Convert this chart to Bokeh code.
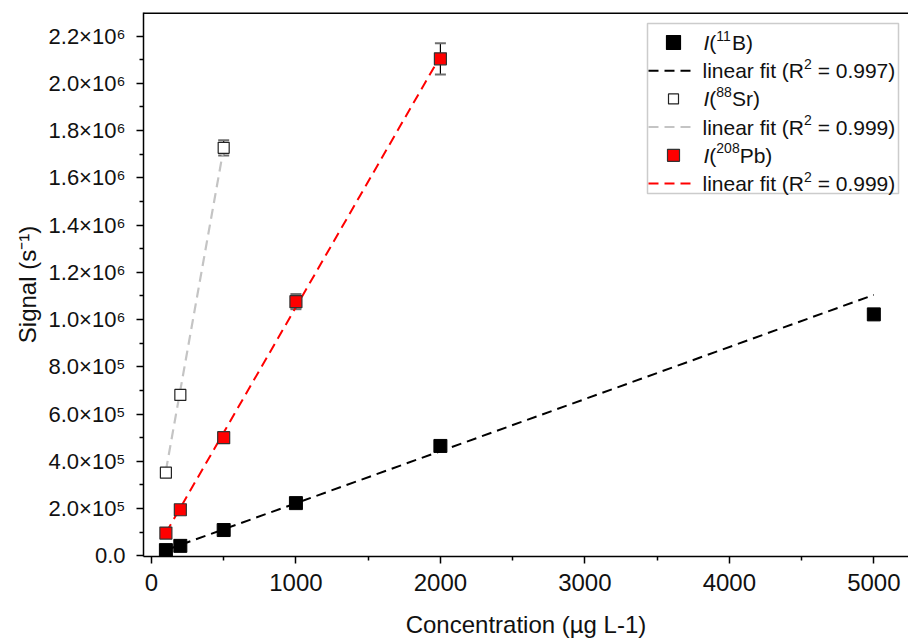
from bokeh.plotting import figure
from bokeh.models import (Range1d, FixedTicker, Label, Whisker, TeeHead,
                          ColumnDataSource, BoxAnnotation, Span)
from bokeh.embed import file_html
from bokeh.resources import INLINE

# ---------------- data ----------------
conc_b = [100, 200, 500, 1000, 2000, 5000]
sig_b = [2.4e4, 4.2e4, 1.09e5, 2.23e5, 4.65e5, 1.022e6]
err_b = [0, 0, 0, 0, 0, 0]

conc_sr = [100, 200, 500]
sig_sr = [3.52e5, 6.81e5, 1.727e6]
err_sr = [0, 0, 3.2e4]

conc_pb = [100, 200, 500, 1000, 2000]
sig_pb = [9.6e4, 1.95e5, 5.0e5, 1.076e6, 2.104e6]
err_pb = [0, 0, 0, 3.2e4, 6.6e4]

fit_b_x = [100, 5000]
fit_b_y = [2.4e4, 1.1045e6]
fit_sr_x = [100, 500]
fit_sr_y = [3.6e5, 1.726e6]
fit_pb_x = [100, 2000]
fit_pb_y = [9.7e4, 2.115e6]

r2_b, r2_sr, r2_pb = "0.997", "0.999", "0.999"

x_ticks = [0, 1000, 2000, 3000, 4000, 5000]
x_minor = [500, 1500, 2500, 3500, 4500]
y_ticks = [0, 2e5, 4e5, 6e5, 8e5, 1e6, 1.2e6, 1.4e6, 1.6e6, 1.8e6, 2.0e6, 2.2e6]
y_minor = [1e5, 3e5, 5e5, 7e5, 9e5, 1.1e6, 1.3e6, 1.5e6, 1.7e6, 1.9e6, 2.1e6]
y_tick_labels = ["0.0", "2.0×10⁵", "4.0×10⁵", "6.0×10⁵", "8.0×10⁵", "1.0×10⁶",
                 "1.2×10⁶", "1.4×10⁶", "1.6×10⁶", "1.8×10⁶", "2.0×10⁶", "2.2×10⁶"]

# ---------------- layout ----------------
FL, FT, FW, FH, FB = 143, 12, 765, 544, 85
X0, X1 = -55, 5240
Y0, Y1 = -3000, 2.3e6
FONT = "Liberation Sans"
TXT = "#111111"


def dx(cx):
    return X0 + (cx - FL) / FW * (X1 - X0)


def dy(cy):
    return Y1 - (cy - FT) / FH * (Y1 - Y0)


AW = {" ": 278, "(": 333, ")": 333, ".": 278, "=": 584, "B": 667, "S": 667,
      "P": 667, "R": 722, "I": 278, "a": 556, "b": 556, "e": 556, "f": 278,
      "i": 222, "l": 222, "n": 556, "r": 333, "t": 278, "g": 556, "s": 500,
      "-": 333, "×": 584}


def tw(s, size):
    return sum(AW.get(c, 556) for c in s) * size / 1000.0


p = figure(frame_width=FW, frame_height=FH,
           x_range=Range1d(X0, X1), y_range=Range1d(Y0, Y1),
           output_backend="svg", toolbar_location=None,
           min_border_left=FL, min_border_top=FT, min_border_right=0,
           min_border_bottom=FB)
p.grid.visible = False
p.outline_line_color = None
p.background_fill_color = "white"
p.border_fill_color = "white"
p.add_layout(Span(location=Y1, dimension="width", line_color="black",
                  line_width=3))

for ax in (p.xaxis[0], p.yaxis[0]):
    ax.axis_line_width = 1.5
    ax.axis_line_color = "black"
    ax.major_tick_line_width = 1.5
    ax.minor_tick_line_width = 1.5
    ax.major_tick_out = 7
    ax.major_tick_in = 0
    ax.minor_tick_out = 4
    ax.minor_tick_in = 0
    ax.major_label_text_font = FONT
    ax.major_label_text_color = TXT
    ax.axis_label_text_font = FONT
    ax.axis_label_text_font_style = "normal"
    ax.axis_label_text_color = TXT

p.xaxis.ticker = FixedTicker(ticks=x_ticks, minor_ticks=x_minor)
p.xaxis.major_label_text_font_size = "24px"
p.xaxis.major_label_standoff = 10
p.xaxis.axis_label = "Concentration (µg L-1)"
p.xaxis.axis_label_text_font_size = "24px"
p.xaxis.axis_label_standoff = 17

p.yaxis.ticker = FixedTicker(ticks=y_ticks, minor_ticks=y_minor)
p.yaxis.major_label_overrides = {v: t for v, t in zip(y_ticks, y_tick_labels)}
p.yaxis.major_label_text_font_size = "22px"
p.yaxis.major_label_standoff = 11
p.yaxis.axis_label = "Signal (s⁻¹)"
p.yaxis.axis_label_text_font_size = "24px"
p.yaxis.axis_label_standoff = 4


# ---------------- error bars ----------------
def add_whiskers(xs, ys, es):
    src = ColumnDataSource(dict(
        x=[x for x, e in zip(xs, es) if e > 0],
        lo=[y - e for y, e in zip(ys, es) if e > 0],
        hi=[y + e for y, e in zip(ys, es) if e > 0]))
    w = Whisker(source=src, base="x", lower="lo", upper="hi", dimension="height",
                line_color="black", line_width=1.2,
                upper_head=TeeHead(size=11, line_color="#6e6e6e", line_width=2),
                lower_head=TeeHead(size=11, line_color="#6e6e6e", line_width=2),
                level="underlay")
    p.add_layout(w)


add_whiskers(conc_b, sig_b, err_b)
add_whiskers(conc_sr, sig_sr, err_sr)
add_whiskers(conc_pb, sig_pb, err_pb)

# ---------------- fit lines ----------------
DASH = "10 6"
p.line(fit_b_x, fit_b_y, line_color="black", line_dash=DASH, line_width=2)
p.line(fit_sr_x, fit_sr_y, line_color="#c4c4c4", line_dash=DASH, line_width=2.2)
p.line(fit_pb_x, fit_pb_y, line_color="#ff0000", line_dash=DASH, line_width=2)

# ---------------- markers ----------------
p.scatter(conc_b, sig_b, marker="square", size=13, fill_color="black",
          line_color="black")
p.scatter(conc_sr, sig_sr, marker="square", size=11, fill_color="white",
          line_color="#222222", line_width=1.2)
p.scatter(conc_pb, sig_pb, marker="square", size=12, fill_color="#ff0000",
          line_color="#333333", line_width=1.2)

# ---------------- legend (hand built) ----------------
box = BoxAnnotation(left=dx(647), right=dx(898), top=dy(23), bottom=dy(193),
                    fill_color="white", fill_alpha=1.0, line_color="#555555",
                    line_width=1.5, level="underlay")
p.add_layout(box)

LG_SZ, LG_SUP = 21, 14
row_c = [42 + 28.2 * i for i in range(6)]
mk_x, ln_x0, ln_x1, tx = 673, 648, 695, 703

entries = [("11", "B)", "black", "black", 14, "black"),
           ("88", "Sr)", "white", "#222222", 10, "#c4c4c4"),
           ("208", "Pb)", "#ff0000", "#333333", 12, "#ff0000")]
r2s = [r2_b, r2_sr, r2_pb]


def lab(x, y, text, size, style="normal"):
    p.add_layout(Label(x=dx(x), y=dy(y), text=text, text_font=FONT,
                       text_font_style=style, text_font_size=f"{size}px",
                       text_align="left", text_baseline="middle",
                       text_color=TXT))


for i, (iso, el, fc, lc, sz, linec) in enumerate(entries):
    rc = row_c[2 * i]
    p.scatter([dx(mk_x)], [dy(rc)], marker="square", size=sz, fill_color=fc,
              line_color=lc, line_width=1.2)
    x = tx
    lab(x, rc, "I", LG_SZ, "italic")
    x += tw("I", LG_SZ)
    lab(x, rc, "(", LG_SZ)
    x += tw("(", LG_SZ)
    lab(x, rc - 7, iso, LG_SUP)
    x += tw(iso, LG_SUP)
    lab(x, rc, el, LG_SZ)

    rc2 = row_c[2 * i + 1]
    p.line([dx(ln_x0), dx(ln_x1)], [dy(rc2), dy(rc2)], line_color=linec,
           line_dash=DASH, line_width=2)
    a = "linear fit (R"
    b = "= " + r2s[i] + ")"
    x = tx - 1
    lab(x, rc2, a, LG_SZ)
    x += tw(a, LG_SZ)
    lab(x, rc2 - 7, "2", LG_SUP)
    x += tw("2", LG_SUP) + tw(" ", LG_SZ)
    lab(x, rc2, b, LG_SZ)

open("out.html", "w").write(file_html(p, INLINE))
